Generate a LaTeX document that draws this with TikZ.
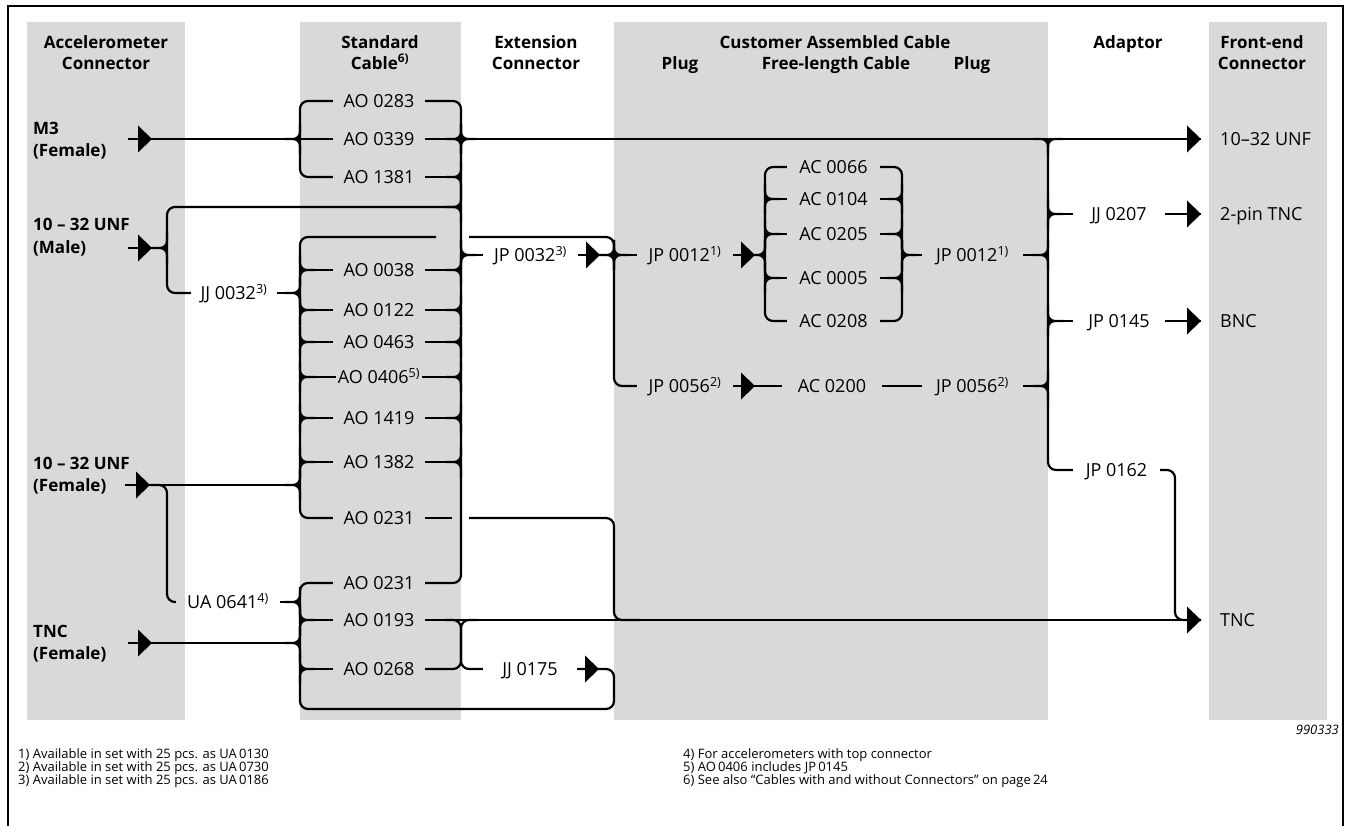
\documentclass[tikz,border=0pt]{standalone}
\usepackage{fontspec}
\setmainfont{Open Sans}
\definecolor{colbg}{RGB}{217,217,217}
\newcommand\labfont{\fontsize{18}{20}\selectfont}
\newcommand\hdrfont{\fontsize{17}{20}\selectfont\bfseries}
\newcommand\notefont{\fontsize{13}{13}\selectfont}
\newcommand\contri[2]{\fill (#1-14,#2-13.5) -- (#1,#2) -- (#1-14,#2+13.5) -- cycle;}
\newcommand\jL[2]{\draw[ln,rounded corners=7pt] (#1-15,#2) -- (#1,#2) -- (#1,#2-15) (#1-15,#2) -- (#1,#2) -- (#1,#2+15);}
\newcommand\jR[2]{\draw[ln,rounded corners=7pt] (#1+15,#2) -- (#1,#2) -- (#1,#2-15) (#1+15,#2) -- (#1,#2) -- (#1,#2+15);}
\newcommand\jD[2]{\draw[ln,rounded corners=7pt] (#1-15,#2) -- (#1,#2) -- (#1,#2+15) (#1+15,#2) -- (#1,#2) -- (#1,#2+15);}
\begin{document}
\begin{tikzpicture}[x=1pt,y=-1pt,
  ln/.style={line width=2.2pt},
  rc/.style={rounded corners=8pt},
  lab/.style={inner sep=0pt,text height=12.8pt,text depth=0pt,font=\labfont},
  hdr/.style={inner sep=0pt,text height=12.2pt,text depth=0pt,font=\hdrfont},
  side/.style={hdr,anchor=west},
  fe/.style={lab,anchor=west},
  note/.style={inner sep=0pt,anchor=west,font=\notefont,text height=9pt,text depth=0pt}]
\useasboundingbox (0,0) rectangle (1349,826);
% background columns
\fill[colbg] (27,22) rectangle (185,720);
\fill[colbg] (300,22) rectangle (461,720);
\fill[colbg] (614,22) rectangle (1048,720);
\fill[colbg] (1209,22) rectangle (1327,720);
% frame
\draw[line width=2pt] (8,830) -- (8,6) -- (1343,6) -- (1343,830);
% bus x positions
\coordinate (xA) at (300,0);
\coordinate (xB) at (461,0);
\coordinate (xC) at (614,0);
\coordinate (xD) at (765,0);
\coordinate (xE) at (902,0);
\coordinate (xF) at (1048,0);
\coordinate (xG) at (167,0);
\coordinate (xH) at (1175,0);
% headers
\node[hdr] (h1a) at (106,42) {Accelerometer};
\node[hdr] (h1b) at (106,63) {Connector};
\node[hdr] (h2a) at (380,42) {Standard};
\node[hdr] (h2b) at (380,63) {Cable\textsuperscript{6)}};
\node[hdr] (h3a) at (536,42) {Extension};
\node[hdr] (h3b) at (536,63) {Connector};
\node[hdr] (h4a) at (835,42) {Customer Assembled Cable};
\node[hdr] (h4b) at (680,63) {Plug};
\node[hdr] (h4c) at (836,63) {Free-length Cable};
\node[hdr] (h4d) at (972,63) {Plug};
\node[hdr] (h5) at (1128,42) {Adaptor};
\node[hdr] (h6a) at (1262,42) {Front-end};
\node[hdr] (h6b) at (1262,63) {Connector};
% accelerometer connectors
\node[side] (m3a) at (33,128.5) {M3};
\node[side] (m3b) at (33,150) {(Female)};
\node[side] (uma) at (33,224) {10 – 32 UNF};
\node[side] (umb) at (33,247) {(Male)};
\node[side] (ufa) at (33,463) {10 – 32 UNF};
\node[side] (ufb) at (33,485) {(Female)};
\node[side] (tna) at (33,631) {TNC};
\node[side] (tnb) at (33,653) {(Female)};
\coordinate (m3t) at (128,139);
\coordinate (umt) at (128,248);
\coordinate (uft) at (125,485);
\coordinate (tnt) at (128,643);
% standard cables
\node[lab,minimum width=92pt] (ao0283) at (379,101) {AO 0283};
\node[lab,minimum width=92pt] (ao0339) at (379,139) {AO 0339};
\node[lab,minimum width=92pt] (ao1381) at (379,177) {AO 1381};
\node[lab,minimum width=92pt] (ao0038) at (379,270) {AO 0038};
\node[lab,minimum width=92pt] (ao0122) at (379,310) {AO 0122};
\node[lab,minimum width=92pt] (ao0463) at (379,342) {AO 0463};
\node[lab,minimum width=86pt] (ao0406) at (379,377) {AO 0406\textsuperscript{5)}};
\node[lab,minimum width=92pt] (ao1419) at (379,418) {AO 1419};
\node[lab,minimum width=92pt] (ao1382) at (379,462) {AO 1382};
\node[lab,minimum width=92pt] (ao0231a) at (379,518) {AO 0231};
\node[lab,minimum width=92pt] (ao0231b) at (379,583) {AO 0231};
\node[lab,minimum width=92pt] (ao0193) at (379,620) {AO 0193};
\node[lab,minimum width=92pt] (ao0268) at (379,669) {AO 0268};
\node[lab,minimum width=86pt] (jj0032) at (234,293) {JJ 0032\textsuperscript{3)}};
\node[lab,minimum width=104pt] (ua0641) at (228,602) {UA 0641\textsuperscript{4)}};
% extension
\node[lab,minimum width=95pt] (jp0032) at (530.5,255) {JP 0032\textsuperscript{3)}};
\node[lab,minimum width=94pt] (jj0175) at (530,669) {JJ 0175};
% customer assembled
\node[lab,minimum width=96pt] (jp0012a) at (685,255) {JP 0012\textsuperscript{1)}};
\node[lab,minimum width=96pt] (jp0056a) at (685,386) {JP 0056\textsuperscript{2)}};
\node[lab,minimum width=93pt] (ac0066) at (833.5,167) {AC 0066};
\node[lab,minimum width=93pt] (ac0104) at (833.5,199) {AC 0104};
\node[lab,minimum width=93pt] (ac0205) at (833.5,234) {AC 0205};
\node[lab,minimum width=93pt] (ac0005) at (833.5,278) {AC 0005};
\node[lab,minimum width=93pt] (ac0208) at (833.5,321) {AC 0208};
\node[lab,minimum width=100pt] (ac0200) at (832,386) {AC 0200};
\node[lab,minimum width=101pt] (jp0012b) at (972.5,255) {JP 0012\textsuperscript{1)}};
\node[lab,minimum width=101pt] (jp0056b) at (972.5,386) {JP 0056\textsuperscript{2)}};
% adaptors
\node[lab,minimum width=92pt] (jj0207) at (1119,214) {JJ 0207};
\node[lab,minimum width=92pt] (jp0145) at (1119,321) {JP 0145};
\node[lab,minimum width=87pt] (jp0162) at (1116.5,470) {JP 0162};
% front-end
\node[fe] (fe1) at (1220,139) {10–32 UNF};
\node[fe] (fe2) at (1220,214) {2-pin TNC};
\node[fe] (fe3) at (1220,321) {BNC};
\node[fe] (fe4) at (1220,620) {TNC};
\coordinate (fe1t) at (1201,139);
\coordinate (fe2t) at (1201,214);
\coordinate (fe3t) at (1201,321);
\coordinate (fe4t) at (1201,620);
% ---------- connectors ----------
% M3 group
\draw[ln] (m3t) -- (ao0339.west);
\draw[ln,rc] (ao0283.west) -| (ao1381.west -| xA) -- (ao1381.west);
\jL{300}{139}
\contri{152}{139}
% main bus B
\draw[ln,rc] (ao0283.east) -| (ao0231b.east -| xB) -- (ao0231b.east);
\draw[ln] (ao0339.east) -- (fe1t);
\jL{461}{139}\jR{461}{139}
\contri{1201}{139}
\foreach \n in {ao1381,ao0038,ao0122,ao0463,ao0406,ao1419,ao1382}{
  \draw[ln] (\n.east) -- (\n.east -| xB);}
\jL{461}{177}\jL{461}{270}\jL{461}{310}\jL{461}{342}\jL{461}{377}\jL{461}{418}\jL{461}{462}
% 10-32 UNF male
\coordinate (g1) at (167,207);
\coordinate (b207) at (461,207);
\draw[ln,rc] (jj0032.west) -| (g1) -- (b207);
\jL{461}{207}
\draw[ln] (umt) -- (umt -| xG);
\jL{167}{248}
\contri{152}{248}
% second brace (V2)
\coordinate (c237a) at (436,237);
\draw[ln,rc] (c237a) -| (ao0231a.west -| xA) -- (ao0231a.west);
\draw[ln] (jj0032.east) -- (jj0032.east -| xA);
\jL{300}{293}
\foreach \n in {ao0038,ao0122,ao0463,ao0406,ao1419,ao1382}{
  \draw[ln] (\n.west) -- (\n.west -| xA);}
\jR{300}{270}\jR{300}{310}\jR{300}{342}\jR{300}{377}\jR{300}{418}\jR{300}{462}
\draw[ln] (uft) -- (uft -| xA);
\jL{300}{485}
\contri{150}{485}
% UA 0641 branch
\coordinate (uf2) at (150,485);
\draw[ln,rc] (uf2) -| (ua0641.west -| xG) -- (ua0641.west);
\draw[ln] (ua0641.east) -- (ua0641.east -| xA);
\jL{300}{602}
% crossing line at 237 and JP 0032 junction
\coordinate (c237b) at (469,237);
\draw[ln,rc] (c237b) -| (jp0056a.west -| xC) -- (jp0056a.west);
\draw[ln] (jp0032.west) -- (jp0032.west -| xB);
\jR{461}{255}
\draw[ln] (jp0032.east) -- (jp0012a.west);
\contri{600}{255}
\jL{614}{255}\jR{614}{255}
% customer assembled cable
\draw[ln] (jp0012a.east) -- (jp0012a.east -| xD);
\contri{755}{255}
\jL{765}{255}
\draw[ln,rc] (ac0066.west) -| (ac0208.west -| xD) -- (ac0208.west);
\draw[ln,rc] (ac0066.east) -| (ac0208.east -| xE) -- (ac0208.east);
\foreach \n in {ac0104,ac0205,ac0005}{
  \draw[ln] (\n.west) -- (\n.west -| xD);
  \draw[ln] (\n.east) -- (\n.east -| xE);}
\jR{765}{199}\jR{765}{234}\jR{765}{278}
\jL{902}{199}\jL{902}{234}\jL{902}{278}
\draw[ln] (jp0012b.west -| xE) -- (jp0012b.west);
\jR{902}{255}
\draw[ln] (jp0012b.east) -- (jp0012b.east -| xF);
\jL{1048}{255}
\draw[ln] (jp0056a.east) -- (ac0200.west);
\contri{755}{386}
\draw[ln] (ac0200.east) -- (jp0056b.west);
\draw[ln] (jp0056b.east) -- (jp0056b.east -| xF);
\jL{1048}{386}
% adaptor bus F
\coordinate (f139) at (1048,139);
\draw[ln,rc] (f139) -- (jp0162.west -| xF) -- (jp0162.west);
\jD{1048}{139}
\draw[ln] (jj0207.west -| xF) -- (jj0207.west);
\jR{1048}{214}
\draw[ln] (jj0207.east) -- (fe2t);
\contri{1201}{214}
\draw[ln] (jp0145.west -| xF) -- (jp0145.west);
\jR{1048}{321}
\draw[ln] (jp0145.east) -- (fe3t);
\contri{1201}{321}
\draw[ln,rc] (jp0162.east) -| (fe4t -| xH) -- (fe4t);
% TNC line and AO 0231 crossing
\draw[ln] (ao0193.east) -- (fe4t);
\contri{1201}{620}
\draw[ln] (ao0231a.east) -- ++(27,0);
\coordinate (c518) at (469,518);
\draw[ln,rc] (c518) -| (ao0193.east -| xC) -- ++(26,0);
% AO 0193 / AO 0268 merge to JJ 0175
\draw[ln,rc] (ao0268.east) -- (ao0268.east -| xB) -- (ao0193.east -| xB) -- ++(-16,0);
\draw[ln,rc] (jj0175.west) -- (jj0175.west -| xB) -- (ao0193.east -| xB) -- ++(16,0);
% third brace with loop
\coordinate (lp1) at (614,709);
\draw[ln,rc] (jj0175.east) -| (lp1) -| (ao0231b.west -| xA) -- (ao0231b.west);
\contri{599}{669}
\draw[ln] (ao0193.west) -- (ao0193.west -| xA);
\draw[ln] (ao0268.west) -- (ao0268.west -| xA);
\jR{300}{620}\jR{300}{669}
\draw[ln] (tnt) -- (tnt -| xA);
\jL{300}{643}
\contri{152}{643}
% footnotes
\node[note] (n1) at (18,754) {1) Available in set with 25 pcs. as UA\,0130};
\node[note] (n2) at (18,767) {2) Available in set with 25 pcs. as UA\,0730};
\node[note] (n3) at (18,780) {3) Available in set with 25 pcs. as UA\,0186};
\node[note] (n4) at (683,754) {4) For accelerometers with top connector};
\node[note] (n5) at (683,767) {5) AO\,0406 includes JP\,0145};
\node[note] (n6) at (683,780) {6) See also “Cables with and without Connectors” on page\,24};
\node[note,anchor=east,font=\notefont\itshape] (code) at (1339,730) {990333};
\end{tikzpicture}
\end{document}
